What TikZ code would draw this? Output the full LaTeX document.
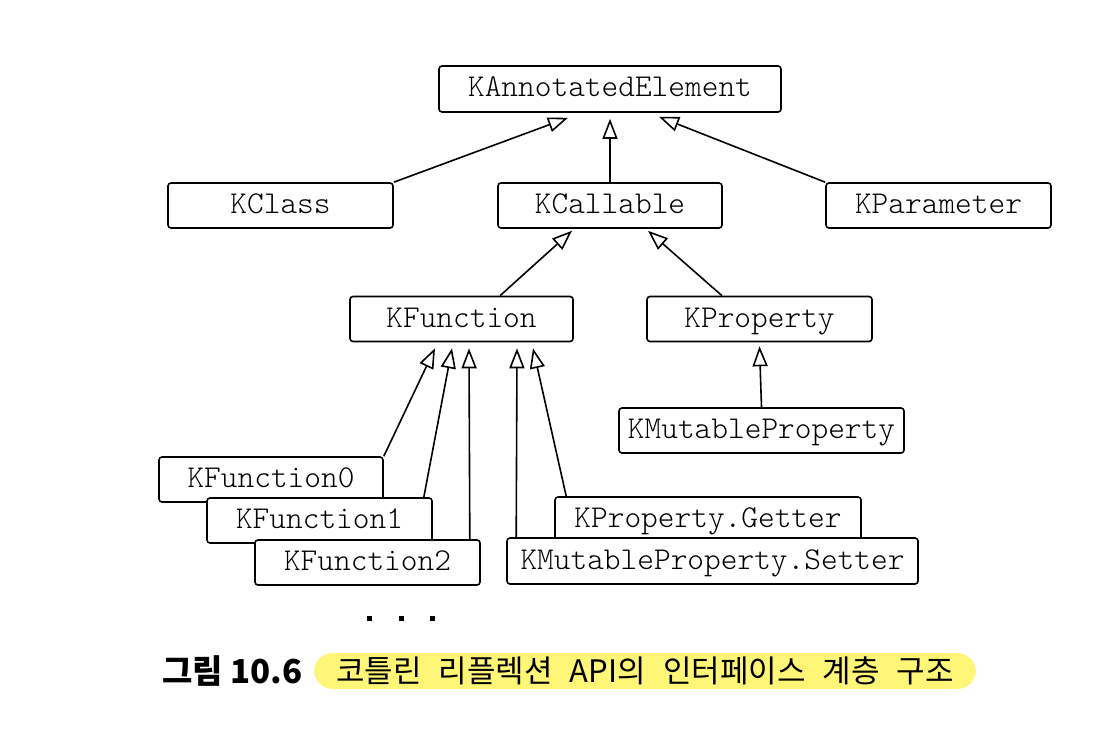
\documentclass[tikz,border=0pt]{standalone}
\usepackage{fontspec}
\newfontfamily\krfont{Noto Sans CJK KR}
\newfontfamily\lightmono{lmmonolt10-regular.otf}
\usetikzlibrary{arrows.meta,calc}
\definecolor{capyellow}{RGB}{255,246,120}
\begin{document}
\begin{tikzpicture}[x=0.5pt,y=-0.5pt,
  box/.style={draw,line width=0.8pt,rounded corners=1.5pt,fill=white,inner sep=0pt,
    minimum height=22.5pt,text height=8pt,text depth=0pt,
    font=\fontsize{15.9}{19}\selectfont\lightmono},
  bw/.style={minimum width=#1*0.5pt},
  inh/.style={draw,line width=0.8pt,-{Triangle[open,length=10pt,width=7.5pt,line width=0.8pt]}}]
\useasboundingbox (0,0) rectangle (1106,738);
\fill[white] (0,0) rectangle (1106,738);

\node[box,bw=342,minimum height=23pt] (kae) at (610,89) {KAnnotatedElement};
\node[box,bw=225] (kclass) at (280.5,205.5) {KClass};
\node[box,bw=224] (kcallable) at (610,205.5) {KCallable};
\node[box,bw=225] (kparam) at (938.5,205.5) {KParameter};
\node[box,bw=223] (kfunc) at (461.5,319) {KFunction};
\node[box,bw=225] (kprop) at (759.5,319) {KProperty};
\node[box,bw=285] (kmprop) at (761.5,430.5) {KMutableProperty};
\node[box,bw=224] (kf0) at (271,479.5) {KFunction0};
\node[box,bw=225] (kf1) at (319.5,520.5) {KFunction1};
\node[box,bw=225] (kf2) at (367.5,562.5) {KFunction2};
\node[box,bw=306] (getter) at (708,519.5) {KProperty.Getter};
\node[box,bw=411,minimum height=23pt] (setter) at (712.5,561) {KMutableProperty.Setter};

\draw[inh] (kclass.north east) -- ($(kae.south)+(-42,5)$);
\draw[inh] (kcallable.north) -- ($(kae.south)+(0,6)$);
\draw[inh] (kparam.north west) -- ($(kae.south)+(49,4)$);
\draw[inh] ($(kfunc.north)+(38.5,0)$) -- ($(kcallable.south)+(-38,2)$);
\draw[inh] ($(kprop.north)+(-37.5,0)$) -- ($(kcallable.south)+(38,2)$);
\draw[inh] (kmprop.north) -- ($(kprop.south)+(0,4)$);
\draw[inh] (kf0.north east) -- ($(kfunc.south)+(-26.5,6)$);
\draw[inh] ($(kf1.north east)+(-9,0)$) -- ($(kfunc.south)+(-9.5,6)$);
\draw[inh] ($(kf2.north east)+(-11,0)$) -- ($(kfunc.south)+(7.5,6)$);
\draw[inh] ($(setter.north west)+(10,0)$) -- ($(kfunc.south)+(55.5,6)$);
\draw[inh] ($(getter.north west)+(12,0)$) -- ($(kfunc.south)+(71.5,6)$);

\foreach \dx in {369,401,432} \fill (\dx-2.5,615.5) rectangle (\dx+2.5,620.5);

\node[anchor=west,inner sep=0pt,font=\krfont\bfseries\fontsize{16.5}{20}\selectfont] (fig) at (162,671) {그림 10.6};
\node[fill=capyellow,rounded corners=9.5pt,minimum width=331pt,minimum height=18pt,inner sep=0pt,
  font=\krfont\fontsize{15.5}{18}\selectfont] (cap) at (645,671)
  {\spaceskip=0.55em\relax 코틀린 리플렉션 API의 인터페이스 계층 구조};
\end{tikzpicture}
\end{document}
